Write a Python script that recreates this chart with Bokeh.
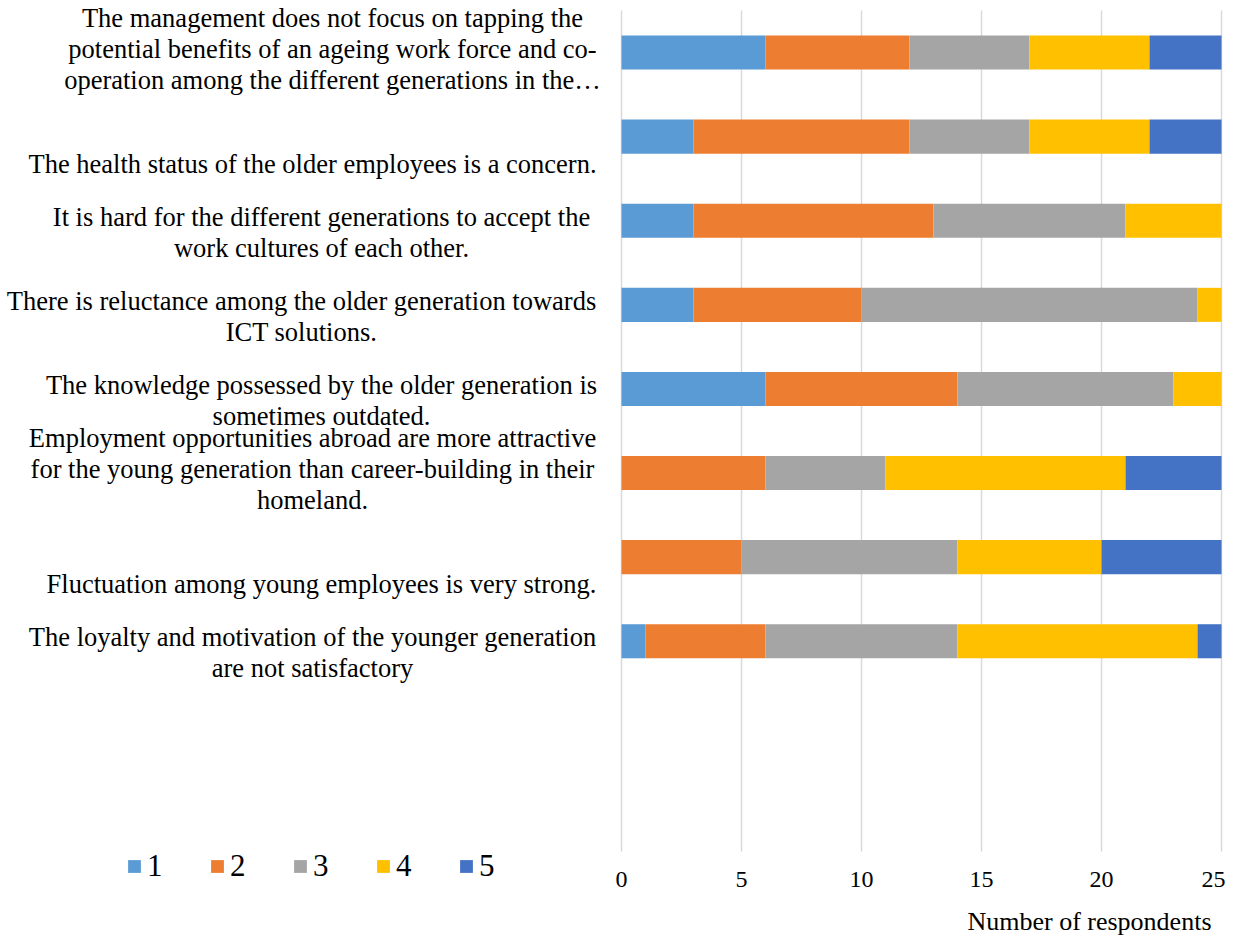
from bokeh.plotting import figure
from bokeh.models import Range1d, Legend, LegendItem, ColumnDataSource
from bokeh.core.properties import value
from bokeh.embed import file_html
from bokeh.resources import INLINE

# ---------------- data ----------------
categories = [
    "The management does not focus on tapping the\npotential benefits of an ageing work force and co-\noperation among the different generations in the\u2026",
    "The health status of the older employees is a concern.",
    "It is hard for the different generations to accept the\nwork cultures of each other.",
    "There is reluctance among the older generation towards\nICT solutions.",
    "The knowledge possessed by the older generation is\nsometimes outdated.",
    "Employment opportunities abroad are more attractive\nfor the young generation than career-building in their\nhomeland.",
    "Fluctuation among young employees is very strong.",
    "The loyalty and motivation of the younger generation\nare not satisfactory",
]
series_names = ["1", "2", "3", "4", "5"]
s1 = [6, 3, 3, 3, 6, 0, 0, 1]
s2 = [6, 9, 10, 7, 8, 6, 5, 5]
s3 = [5, 5, 8, 14, 9, 5, 9, 8]
s4 = [5, 5, 4, 1, 2, 10, 6, 10]
s5 = [3, 3, 0, 0, 0, 4, 5, 1]
x_ticks = [0, 5, 10, 15, 20, 25]
axis_title = "Number of respondents"
n_slots = 10  # category slots on the axis (last two empty)
x_max = 25

# ---------------- style / layout ----------------
colors = ["#5B9BD5", "#ED7D31", "#A5A5A5", "#FFC000", "#4472C4"]
FONT = "Liberation Serif"
W, H = 1226, 935
PLOT_LEFT, PLOT_TOP = 621, 10          # canvas px of value 0 / top of category axis
PLOT_W, PLOT_H = 600, 841
PX_X = PLOT_W / x_max                  # px per unit on value axis
PX_Y = PLOT_H / n_slots                # px per category slot
label_center_px = [340, 320, 329, 309, 329, 320, 329, 320]  # page-px centres of label blocks
tick_label_shift = [0, 0, 0, 0, 0, -8]  # keep last tick label inside the canvas

def dx(px):
    return px / PX_X

def dy(px):
    return px / PX_Y

p = figure(width=W, height=H, output_backend="svg", toolbar_location=None,
           x_range=Range1d(-dx(PLOT_LEFT), dx(W - PLOT_LEFT)),
           y_range=Range1d(dy(H - PLOT_TOP), -dy(PLOT_TOP)),
           min_border=0)
p.outline_line_color = None
p.background_fill_color = "white"
p.xaxis.visible = False
p.yaxis.visible = False
p.xgrid.visible = False
p.ygrid.visible = False

# vertical grid lines
p.segment(x0=x_ticks, y0=[0] * len(x_ticks), x1=x_ticks, y1=[n_slots] * len(x_ticks),
          line_color="#D9D9D9", line_width=1.5)

source = ColumnDataSource(dict(
    y=[i + 0.5 for i in range(len(categories))],
    s1=s1, s2=s2, s3=s3, s4=s4, s5=s5,
))
renderers = p.hbar_stack(["s1", "s2", "s3", "s4", "s5"], y="y", height=0.405,
                         color=colors, line_color=None, source=source)

# tick labels
tick_src = ColumnDataSource(dict(
    x=x_ticks, y=[n_slots + dy(28)] * len(x_ticks),
    text=[str(t) for t in x_ticks], xo=tick_label_shift,
))
p.text(x="x", y="y", text="text", x_offset="xo", source=tick_src,
       text_align="center", text_baseline="middle",
       text_font=value(FONT), text_font_size="24px", text_color="black")

# category labels: lines centred, block bottom at slot boundary
lx, ly, lt = [], [], []
for i, (txt, cx) in enumerate(zip(categories, label_center_px)):
    lines = txt.split("\n")
    n = len(lines)
    for j, line in enumerate(lines):
        down = 27 - 31 * (n - 1 - j)
        lx.append(-dx(PLOT_LEFT + 8 - cx))
        ly.append(i + 0.5 + dy(down))
        lt.append(line)
p.text(x=lx, y=ly, text=lt, text_align="center", text_baseline="middle",
       text_font=value(FONT), text_font_size="26.5px", text_color="black")

# axis title
p.text(x=[x_max - dx(10)], y=[n_slots + dy(70)], text=[axis_title],
       text_align="right", text_baseline="middle",
       text_font=value(FONT), text_font_size="26px", text_color="black")

# legend
items = [LegendItem(label=name, renderers=[r]) for name, r in zip(series_names, renderers)]
legend = Legend(items=items, orientation="horizontal", location=(126, 51),
                glyph_width=16, glyph_height=16, label_standoff=5, label_width=20,
                spacing=42, padding=0, margin=0,
                border_line_color=None, background_fill_alpha=0,
                label_text_font=FONT, label_text_font_size="31px", label_text_color="black")
p.add_layout(legend, "center")

open("out.html", "w").write(file_html(p, INLINE))
